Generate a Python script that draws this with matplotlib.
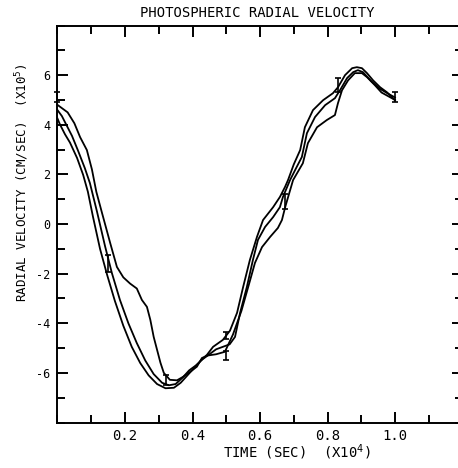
import matplotlib
matplotlib.use('Agg')
import matplotlib.pyplot as plt
from matplotlib.ticker import MultipleLocator

plt.rcParams['font.family'] = ['DejaVu Sans Mono', 'DejaVu Sans']

# 三条径向速度曲线 (时间单位 1e4 s, 速度单位 1e5 cm/s)
t_lag = [0, 0.03, 0.05, 0.067, 0.087, 0.102, 0.115, 0.132, 0.156, 0.176, 0.195, 0.215,
         0.235, 0.25, 0.265, 0.275, 0.285, 0.295, 0.305, 0.315, 0.333, 0.354, 0.372, 0.393,
         0.413, 0.428, 0.445, 0.47, 0.496, 0.52, 0.545, 0.57, 0.585, 0.606, 0.63, 0.653,
         0.665, 0.675, 0.698, 0.727, 0.742, 0.769, 0.798, 0.822, 0.831, 0.843, 0.861, 0.881,
         0.902, 0.917, 0.94, 0.96, 0.98, 1.0]
v_lag = [4.8, 4.5, 4.06, 3.5, 2.98, 2.2, 1.3, 0.44, -0.76, -1.73, -2.15, -2.4,
         -2.6, -3.06, -3.34, -3.86, -4.55, -5.07, -5.59, -6.0, -6.28, -6.3, -6.16, -5.96,
         -5.75, -5.4, -5.3, -5.25, -5.15, -4.45, -3.5, -2.3, -1.57, -0.93, -0.52, -0.16,
         0.16, 0.7, 1.77, 2.45, 3.26, 3.9, 4.19, 4.39, 4.87, 5.39, 5.79, 6.08,
         6.08, 5.92, 5.6, 5.3, 5.15, 5.0]

t_mid = [0, 0.013, 0.028, 0.043, 0.061, 0.081, 0.096, 0.117, 0.141, 0.161, 0.185, 0.21,
         0.235, 0.26, 0.285, 0.31, 0.33, 0.35, 0.37, 0.39, 0.41, 0.43, 0.45, 0.47, 0.49,
         0.51, 0.526, 0.541, 0.561, 0.579, 0.594, 0.615, 0.639, 0.659, 0.668, 0.689, 0.705,
         0.724, 0.739, 0.763, 0.793, 0.822, 0.837, 0.858, 0.876, 0.89, 0.905, 0.93, 0.955,
         0.98, 1.0]
v_mid = [4.59, 4.35, 3.95, 3.55, 2.95, 2.25, 1.65, 0.5, -0.9, -1.97, -3.06, -4.0,
         -4.8, -5.5, -6.05, -6.4, -6.5, -6.45, -6.2, -5.9, -5.7, -5.45, -5.25, -5.05, -4.95,
         -4.85, -4.55, -3.58, -2.54, -1.45, -0.64, -0.12, 0.28, 0.68, 1.09, 1.77, 2.2,
         2.7, 3.66, 4.31, 4.79, 5.07, 5.39, 5.88, 6.12, 6.2, 6.12, 5.75, 5.45,
         5.25, 5.1]

t_lead = [0, 0.007, 0.022, 0.037, 0.058, 0.076, 0.09, 0.105, 0.126, 0.147, 0.17, 0.195,
          0.22, 0.245, 0.27, 0.295, 0.32, 0.345, 0.365, 0.385, 0.405, 0.425, 0.443, 0.461,
          0.49, 0.511, 0.532, 0.55, 0.57, 0.591, 0.609, 0.639, 0.659, 0.674, 0.683, 0.70,
          0.719, 0.733, 0.757, 0.787, 0.816, 0.831, 0.852, 0.873, 0.887, 0.902, 0.917, 0.935,
          0.956, 0.976, 1.0]
v_lead = [4.25, 4.02, 3.62, 3.28, 2.66, 1.98, 1.3, 0.3, -1.0, -2.05, -3.1, -4.1,
          -4.95, -5.6, -6.1, -6.45, -6.62, -6.6, -6.4, -6.1, -5.8, -5.5, -5.27, -4.95,
          -4.67, -4.3, -3.58, -2.54, -1.45, -0.52, 0.16, 0.68, 1.09, 1.49, 1.77, 2.4,
          2.98, 3.9, 4.59, 4.99, 5.27, 5.51, 6.0, 6.28, 6.32, 6.28, 6.08, 5.79,
          5.51, 5.31, 4.99]

# 曲线上的小误差标记
mark_t = [0.0, 0.15, 0.32, 0.50, 0.50, 0.675, 0.83, 1.0]
mark_v = [5.1, -1.6, -6.3, -4.5, -5.3, 0.9, 5.6, 5.1]
mark_err = [0.2, 0.35, 0.2, 0.15, 0.2, 0.3, 0.3, 0.2]

fig = plt.figure(figsize=(4.58, 4.68), dpi=100)
ax = fig.add_axes([57.5 / 458, 1 - 422.5 / 468, 405 / 458, (422.5 - 25.5) / 468])

for t, v in [(t_lag, v_lag), (t_mid, v_mid), (t_lead, v_lead)]:
    ax.plot(t, v, color='black', linewidth=1.3, solid_joinstyle='round')

ax.errorbar(mark_t, mark_v, yerr=mark_err, fmt='none', ecolor='black',
            elinewidth=1.2, capsize=2.5, capthick=1.2, clip_on=False)

ax.set_xlim(0, 1.2)
ax.set_ylim(-8, 8)

# 刻度
ax.xaxis.set_major_locator(MultipleLocator(0.2))
ax.xaxis.set_minor_locator(MultipleLocator(0.1))
ax.yaxis.set_major_locator(MultipleLocator(2))
ax.yaxis.set_minor_locator(MultipleLocator(1))
ax.tick_params(which='both', direction='in', top=True, right=True, width=1.4)
ax.tick_params(which='major', length=8)
ax.tick_params(which='minor', length=6)
ax.tick_params(axis='x', labelsize=10, pad=5)
ax.tick_params(axis='y', labelsize=8.5, pad=5)

xt = [0.2, 0.4, 0.6, 0.8, 1.0]
ax.set_xticks(xt)
ax.set_xticklabels(['0.2', '0.4', '0.6', '0.8', '1.0'])
yt = [-6, -4, -2, 0, 2, 4, 6]
ax.set_yticks(yt)
ax.set_yticklabels(['-6', '-4', '-2', '0', '2', '4', '6'])

for s in ax.spines.values():
    s.set_linewidth(1.4)

fig.text(257 / 458, 1 - 13 / 468, 'PHOTOSPHERIC RADIAL VELOCITY', ha='center', va='center',
         fontsize=10)
fig.text(297 / 458, 1 - 452 / 468, r'TIME (SEC)  (X10$^{4}$)', ha='center', va='center',
         fontsize=10)
fig.text(22 / 458, 1 - 183 / 468, r'RADIAL VELOCITY (CM/SEC)  (X10$^{5}$)', ha='center',
         va='center', rotation=90, fontsize=9)

fig.savefig('out.png', dpi=100, facecolor='white')
